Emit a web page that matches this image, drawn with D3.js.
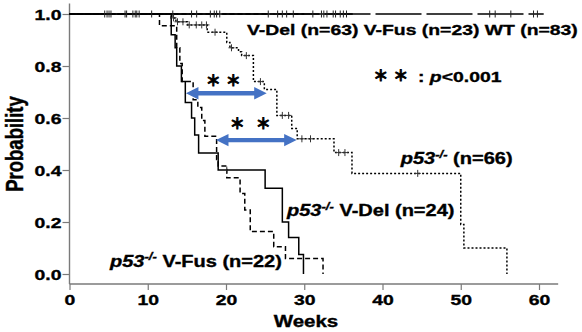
<!DOCTYPE html>
<html>
<head>
<meta charset="utf-8">
<script src="https://cdn.jsdelivr.net/npm/d3@7"></script>
<style>
  body { margin: 0; background: #fff; }
  svg text { font-family: "Liberation Sans", Arial, sans-serif; font-weight: bold; fill: #000; stroke: #000; stroke-width: 0.35px; }
</style>
</head>
<body>
<svg id="chart" width="582" height="332"></svg>
<script>
// axis ticks
const weekTicks = [0, 10, 20, 30, 40, 50, 60];
const probTicks = [0, 0.2, 0.4, 0.6, 0.8, 1.0];

// p53-/- (n=66), dotted
const p53Weeks = [13.0, 13.6, 15.1, 17.6, 20.1, 20.5, 21.6, 22.0, 23.5, 24.9, 26.5, 28.4, 29.1, 33.8, 36.1, 50.0, 50.4, 55.9];
const p53Surv = [0.985, 0.97, 0.958, 0.93, 0.89, 0.87, 0.855, 0.84, 0.74, 0.71, 0.61, 0.56, 0.52, 0.467, 0.387, 0.19, 0.10, 0];
const p53Censor = [13.3, 13.8, 14.5, 15.3, 16.2, 16.9, 17.5, 18.6, 20.7, 22.6, 24.4, 27.2, 28.0, 29.7, 30.8, 34.4, 35.2, 44.5];

// p53-/- V-Del (n=24), solid
const delWeeks = [13.0, 13.5, 13.7, 14.3, 14.8, 15.6, 16.0, 16.5, 19.0, 25.0, 27.2, 28.0, 29.3, 29.9];
const delSurv = [0.92, 0.87, 0.80, 0.74, 0.66, 0.60, 0.535, 0.465, 0.40, 0.33, 0.20, 0.14, 0.075, 0];
const delCensor = [20.1];

// p53-/- V-Fus (n=22), dashed
const fusWeeks = [11.5, 13.7, 14.1, 14.4, 15.8, 16.4, 16.9, 17.3, 18.8, 19.0, 20.1, 21.8, 22.4, 23.1, 26.1, 27.6, 32.4];
const fusSurv = [0.955, 0.87, 0.81, 0.74, 0.67, 0.64, 0.59, 0.53, 0.44, 0.415, 0.37, 0.31, 0.246, 0.163, 0.105, 0.06, 0];

// groups that stay at 1.0: V-Del, V-Fus, WT
const topLastWeek = [36.2, 30.0, 60.6];
const topCensorWeeks = [4.5, 4.8, 5.05, 5.3, 7.1, 7.3, 8.1, 8.4, 8.6, 8.9, 10.5, 13.2, 15.6, 16.25,
  18.0, 18.5, 18.8, 19.2, 25.4, 26.6, 27.2, 27.75, 28.6, 31.1, 32.2, 32.5, 32.9, 33.7, 34.0,
  34.6, 35.0, 35.4, 53.7, 54.4, 56.4, 59.3, 59.8];

// comparison arrows (weeks from / to, probability level)
const arrowFrom = [14.88, 18.72];
const arrowTo = [25.2, 29.03];
const arrowProb = [0.695, 0.515];
const starWeeks = [[18.37, 20.93], [21.44, 24.76]];
const starProb = [0.746, 0.58];

const svg = d3.select("#chart");
const sx = 1.25; // text in the figure is stretched horizontally

const x = d3.scaleLinear().domain([0, 60]).range([69.5, 539]);
const y = d3.scaleLinear().domain([0, 1]).range([274, 14]);
const axisY = 284;

function label(px, py, anchor, size) {
  return svg.append("g")
    .attr("transform", `translate(${px},${py}) scale(${sx},1)`)
    .append("text")
    .attr("text-anchor", anchor)
    .style("font-size", size + "px");
}

function star(px, py) {
  svg.append("text")
    .attr("x", px).attr("y", py)
    .attr("text-anchor", "middle")
    .style("font-family", "'Noto Sans CJK JP', sans-serif")
    .style("font-size", "15px")
    .style("stroke-width", "0.9px")
    .text("\uFF0A");
}

// axes
const axisColor = "#7a7a7a";
svg.append("line")
  .attr("x1", x(0)).attr("x2", x(0))
  .attr("y1", y(1.04)).attr("y2", axisY)
  .attr("stroke", axisColor).attr("stroke-width", 1.4);
svg.append("line")
  .attr("x1", x(0)).attr("x2", x(62.45))
  .attr("y1", axisY).attr("y2", axisY)
  .attr("stroke", axisColor).attr("stroke-width", 1.4);

const yAxis = svg.append("g")
  .attr("transform", `translate(${x(0)},0)`)
  .call(d3.axisLeft(y).tickValues(probTicks).tickFormat(d3.format(".1f")).tickSize(7).tickSizeOuter(0));
yAxis.select(".domain").remove();
yAxis.selectAll(".tick line").attr("stroke", axisColor).attr("stroke-width", 1.2);
yAxis.selectAll(".tick text")
  .attr("x", null).attr("dy", null)
  .attr("transform", `translate(-8,5.6) scale(${sx},1)`)
  .style("font-size", "15.5px");

const xAxis = svg.append("g")
  .attr("transform", `translate(0,${axisY})`)
  .call(d3.axisBottom(x).tickValues(weekTicks).tickFormat(d3.format("d")).tickSize(6).tickSizeOuter(0));
xAxis.select(".domain").remove();
xAxis.selectAll(".tick line").attr("stroke", axisColor).attr("stroke-width", 1.2);
xAxis.selectAll(".tick text")
  .attr("y", null).attr("dy", null)
  .attr("transform", `translate(0,21) scale(${sx},1)`)
  .style("font-size", "15.5px");

label(306, 327, "middle", 16.4).text("Weeks");
svg.append("g")
  .attr("transform", `translate(23,144) scale(${sx},1) rotate(-90)`)
  .append("text")
  .attr("text-anchor", "middle")
  .style("font-size", "18.5px")
  .text("Probability");

// curves
function stepPoints(weeks, surv, lastWeek) {
  const pts = [[0, 1]];
  weeks.forEach((w, i) => pts.push([w, surv[i]]));
  if (surv[surv.length - 1] > 0) pts.push([lastWeek, surv[surv.length - 1]]);
  return pts;
}
function survAt(weeks, surv, t) {
  let p = 1;
  weeks.forEach((w, i) => { if (w <= t) p = surv[i]; });
  return p;
}

const line = d3.line()
  .x((d) => x(d[0]))
  .y((d) => y(d[1]))
  .curve(d3.curveStepAfter);

const plot = svg.append("g").attr("fill", "none").attr("stroke", "#000");

// top groups at 1.0
plot.append("path")
  .attr("d", line([[0, 1], [topLastWeek[2], 1]]))
  .attr("stroke-width", 1.4)
  .attr("stroke-dasharray", "46,5");
plot.append("path")
  .attr("d", line([[0, 1], [topLastWeek[1], 1]]))
  .attr("stroke-width", 1.4)
  .attr("stroke-dasharray", "5,3");
plot.append("path")
  .attr("d", line([[0, 1], [topLastWeek[0], 1]]))
  .attr("stroke-width", 1.4);

plot.append("path")
  .attr("d", line(stepPoints(p53Weeks, p53Surv)))
  .attr("stroke-width", 1.5)
  .attr("stroke-dasharray", "2,2");
plot.append("path")
  .attr("d", line(stepPoints(fusWeeks, fusSurv)))
  .attr("stroke-width", 1.5)
  .attr("stroke-dasharray", "5,3");
plot.append("path")
  .attr("d", line(stepPoints(delWeeks, delSurv)))
  .attr("stroke-width", 1.5);

// censor marks
function censorMarks(weeksList, probFn, color) {
  plot.append("g")
    .selectAll("line")
    .data(weeksList)
    .join("line")
    .attr("x1", (d) => x(d)).attr("x2", (d) => x(d))
    .attr("y1", (d) => y(probFn(d)) - 3.5)
    .attr("y2", (d) => y(probFn(d)) + 3.5)
    .attr("stroke", color)
    .attr("stroke-width", 1);
}
censorMarks(topCensorWeeks, () => 1, "#222");
censorMarks(p53Censor, (t) => survAt(p53Weeks, p53Surv, t), "#333");
censorMarks(delCensor, (t) => survAt(delWeeks, delSurv, t), "#333");
// small horizontal bar of the "+" for curve censors
plot.append("g")
  .selectAll("line")
  .data(p53Censor)
  .join("line")
  .attr("x1", (d) => x(d) - 3).attr("x2", (d) => x(d) + 3)
  .attr("y1", (d) => y(survAt(p53Weeks, p53Surv, d)))
  .attr("y2", (d) => y(survAt(p53Weeks, p53Surv, d)))
  .attr("stroke", "#333").attr("stroke-width", 1);

// blue double arrows
const arrowColor = "#4472c4";
const hl = 12.5, hw = 6.2, sw = 2.2;
arrowFrom.forEach((f, i) => {
  const a = x(f), b = x(arrowTo[i]), c = y(arrowProb[i]);
  svg.append("path")
    .attr("d", `M${a},${c} L${a + hl},${c - hw} L${a + hl},${c - sw} L${b - hl},${c - sw} L${b - hl},${c - hw} ` +
      `L${b},${c} L${b - hl},${c + hw} L${b - hl},${c + sw} L${a + hl},${c + sw} L${a + hl},${c + hw} Z`)
    .attr("fill", arrowColor);
  starWeeks[i].forEach((w) => star(x(w), y(starProb[i]) + 6));
});

// significance legend
[380.8, 400.8].forEach((px) => star(px, 81));
const sig = label(418, 81.5, "start", 15.5);
sig.append("tspan").text(": ");
sig.append("tspan").style("font-style", "italic").text("p");
sig.append("tspan").text("<0.001");

// group labels
label(247, 35, "start", 15.5).text("V-Del (n=63) V-Fus (n=23) WT (n=83)");

function p53Label(px, py, rest) {
  const t = label(px, py, "start", 16);
  t.append("tspan").style("font-style", "italic").text("p53");
  t.append("tspan").style("font-style", "italic").style("font-size", "10.5px")
    .attr("dy", -6.5).text("-/-");
  t.append("tspan").attr("dy", 6.5).text(rest);
}
p53Label(400.7, 164, " (n=66)");
p53Label(287, 216, " V-Del (n=24)");
p53Label(110, 266.5, " V-Fus (n=22)");
</script>
</body>
</html>
